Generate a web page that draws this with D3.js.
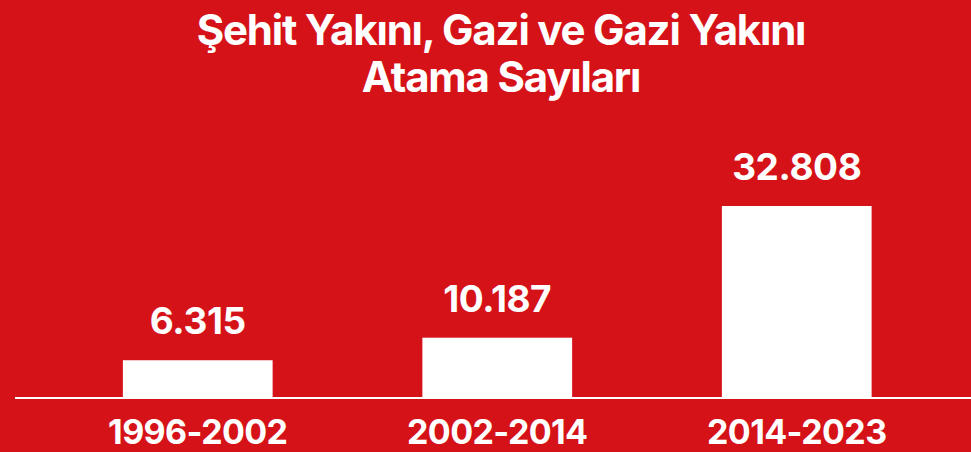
<!DOCTYPE html>
<html>
<head>
<meta charset="utf-8">
<script src="https://cdn.jsdelivr.net/npm/d3@7"></script>
<style>
  html, body { margin: 0; padding: 0; background: #d61219; }
  svg { display: block; }
  text { font-family: Inter, "Noto Sans", sans-serif; fill: #fff; font-weight: 700; }
</style>
</head>
<body>
<svg id="chart" width="971" height="452"></svg>
<script>
// Appointment counts by period
const titleLines = ["Şehit Yakını, Gazi ve Gazi Yakını", "Atama Sayıları"];
const periods = ["1996-2002", "2002-2014", "2014-2023"];
const appointments = [6315, 10187, 32808];
const valueLabels = ["6.315", "10.187", "32.808"];

const W = 971, H = 452;
const baseY = 397;
const svg = d3.select("#chart");

svg.append("rect").attr("width", W).attr("height", H).attr("fill", "#d61219");

// Title
svg.append("g").selectAll("text")
  .data(titleLines)
  .join("text")
  .attr("x", 501)
  .attr("y", (d, i) => 45 + i * 47)
  .attr("text-anchor", "middle")
  .attr("font-size", 42)
  .attr("letter-spacing", -1.2)
  .text(d => d);

const x = d3.scaleBand()
  .domain(periods)
  .range([48, 946.5])
  .paddingInner(0.5)
  .paddingOuter(0.25);

const y = d3.scaleLinear()
  .domain([0, d3.max(appointments)])
  .range([baseY, 206]);

const rows = periods.map((p, i) => ({ p, v: appointments[i], label: valueLabels[i] }));

// Bars
svg.append("g").selectAll("rect")
  .data(rows)
  .join("rect")
  .attr("x", d => x(d.p))
  .attr("y", d => y(d.v))
  .attr("width", x.bandwidth())
  .attr("height", d => baseY - y(d.v))
  .attr("fill", "#fff");

// Baseline
svg.append("line")
  .attr("x1", 15).attr("x2", W)
  .attr("y1", baseY + 1).attr("y2", baseY + 1)
  .attr("stroke", "#fff").attr("stroke-width", 2);

// Value labels
svg.append("g").selectAll("text")
  .data(rows)
  .join("text")
  .attr("x", d => x(d.p) + x.bandwidth() / 2)
  .attr("y", d => y(d.v) - 26)
  .attr("text-anchor", "middle")
  .attr("font-size", 37)
  .attr("letter-spacing", -0.4)
  .text(d => d.label);

// Category axis labels
const xAxis = svg.append("g")
  .attr("transform", `translate(0,${baseY})`)
  .call(d3.axisBottom(x).tickSize(0).tickPadding(0));
xAxis.select(".domain").remove();
xAxis.selectAll("text")
  .attr("y", 47)
  .attr("dy", null)
  .attr("font-size", 34)
  .attr("letter-spacing", -0.6)
  .attr("font-family", "Inter, 'Noto Sans', sans-serif")
  .attr("font-weight", 700)
  .attr("fill", "#fff");
</script>
</body>
</html>
